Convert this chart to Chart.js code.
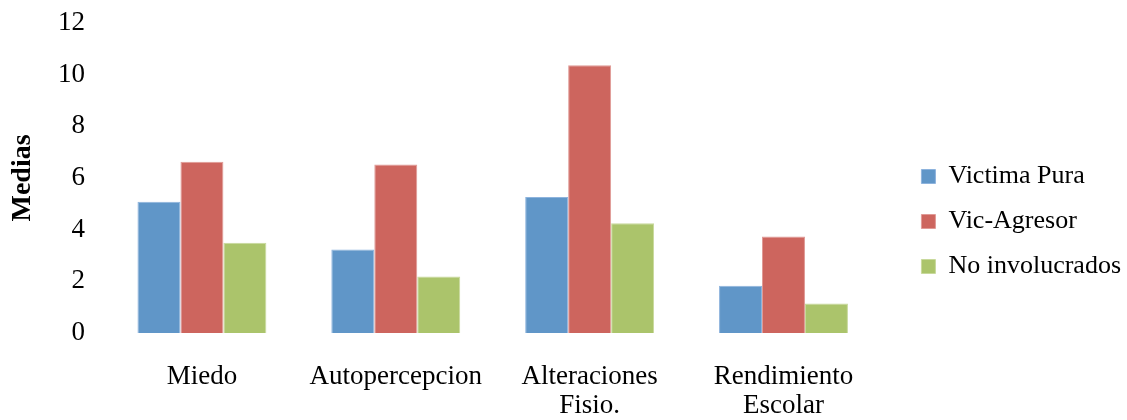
<!DOCTYPE html>
<html><head><meta charset="utf-8">
<script src="https://cdn.jsdelivr.net/npm/chart.js@4"></script>
<style>html,body{margin:0;padding:0;background:#fff}#wrap{width:1127px;height:420px}</style>
</head><body><div id="wrap"><canvas id="c"></canvas></div>
<script>
const categories = ["Miedo", "Autopercepcion", ["Alteraciones", "Fisio."], ["Rendimiento", "Escolar"]];
const victimaPura = [5.08, 3.23, 5.26, 1.83];
const vicAgresor = [6.63, 6.52, 10.36, 3.74];
const noInvolucrados = [3.49, 2.19, 4.25, 1.14];
const yTicks = {min: 0, max: 12, step: 2};
const font = "'Liberation Serif', 'Times New Roman', serif";
const fsize = 27;
const legendShift = 22;
const legendExtra = 15;

const chart = new Chart(document.getElementById('c'), {
  type: 'bar',
  data: {
    labels: categories,
    datasets: [
      {label: 'Victima Pura', data: victimaPura, backgroundColor: '#6096c8', borderColor: '#8db3dd', borderWidth: 1},
      {label: 'Vic-Agresor', data: vicAgresor, backgroundColor: '#cd655e', borderColor: '#e09a96', borderWidth: 1},
      {label: 'No involucrados', data: noInvolucrados, backgroundColor: '#abc46b', borderColor: '#c8d99c', borderWidth: 1}
    ]
  },
  options: {
    responsive: true, maintainAspectRatio: false, animation: false,
    layout: {padding: {top: 23, right: 3, bottom: 0, left: 6}},
    datasets: {bar: {categoryPercentage: 0.665, barPercentage: 1.0}},
    plugins: {
      legend: {
        position: 'right',
        labels: {font: {family: font, size: 26}, color: '#000', boxWidth: 14, boxHeight: 14, padding: 19}
      },
      tooltip: {enabled: false}
    },
    scales: {
      x: {
        grid: {display: false, drawTicks: false},
        border: {display: false},
        ticks: {font: {family: font, size: fsize, lineHeight: 1.06}, color: '#000', maxRotation: 0, autoSkip: false, padding: 30},
        afterFit: s => { s.height = 87; }
      },
      y: {
        min: yTicks.min, max: yTicks.max,
        grid: {display: false, drawTicks: false},
        border: {display: false},
        ticks: {stepSize: yTicks.step, font: {family: font, size: fsize}, color: '#000', padding: 20},
        title: {display: true, text: 'Medias', font: {family: font, size: 28, weight: 'bold'}, color: '#000', padding: {top: 0, bottom: 0}},
        afterFit: s => { s.width = 99; s.paddingTop = 0; s.paddingBottom = 0; }
      }
    }
  },
  plugins: [{
    id: 'legendGap',
    afterLayout(c) { if (c.legend) { c.legend.left += legendShift; } }
  }]
});
const origFit = chart.legend.fit;
chart.legend.fit = function () { origFit.call(this); this.width += legendExtra; };
chart.update();
</script></body></html>
